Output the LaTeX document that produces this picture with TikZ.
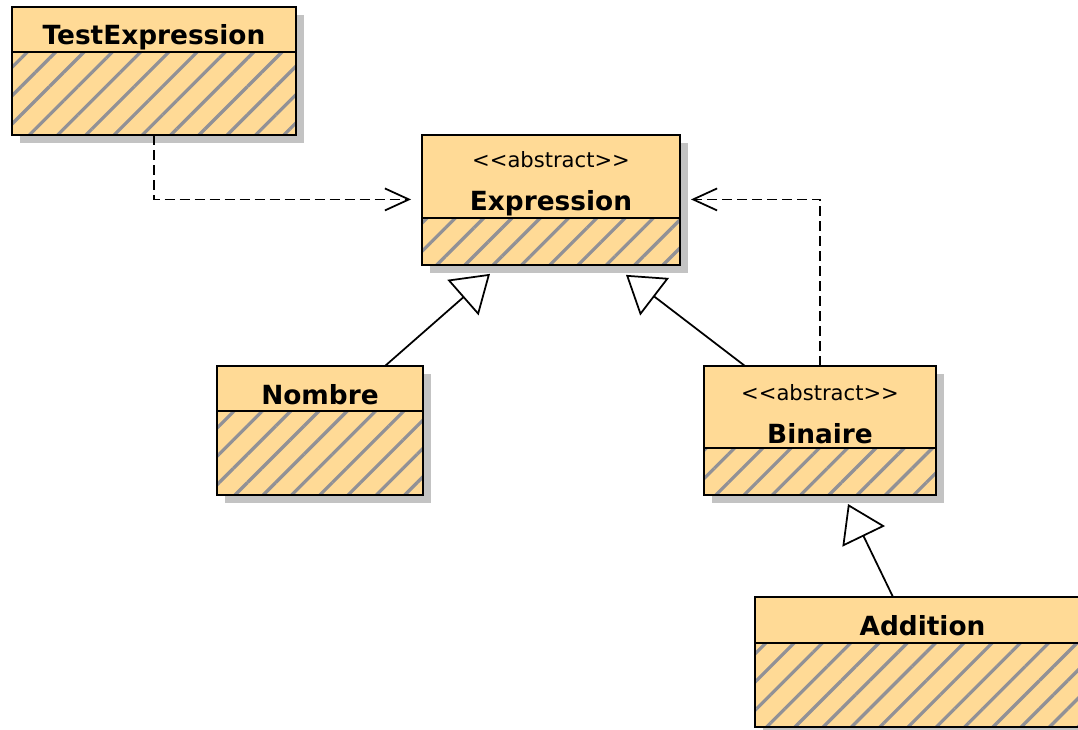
\documentclass[tikz,border=0pt]{standalone}
\usepackage{fontspec}
\setmainfont{DejaVu Sans}
\usepackage{tikz}
\usetikzlibrary{positioning}
\usetikzlibrary{arrows.meta, patterns.meta, shadows}
\usepackage{xcolor}
\definecolor{classfill}{RGB}{255,218,150}
\definecolor{hatch}{RGB}{145,145,150}
\definecolor{shade}{RGB}{195,195,195}
\newcommand{\stereo}{\rule{0pt}{6.2mm}{\fontsize{12}{14}\selectfont\mdseries <\kern0pt<abstract>\kern0pt>}\\[6.4pt]}

\begin{document}
\begin{tikzpicture}[
x = 0.2mm, y = -0.2mm,
every node/.style = {draw, line width = 0.4mm, outer sep = 0pt, inner sep = 1pt},
classshadow/.style = {drop shadow = {shadow xshift = 1.6mm, shadow yshift = -1.6mm, opacity = 1, fill = shade}},
head/.style = {classshadow, fill = classfill, anchor = north west, align = center,
  font = \fontsize{15}{18}\selectfont\bfseries},
namehead/.style = {head, text height = 6.2mm, text depth = 0pt},
body/.style = {classshadow, preaction = {fill = classfill},
  pattern = {Lines[angle = 45, distance = 4mm, line width = 0.65mm]}, pattern color = hatch},
dep/.style = {dash pattern = on 2mm off 1mm, line width = 0.35mm, shorten >= 2.2mm,
  -{Straight Barb[length = 4.8mm, width = 4.4mm]}},
gen/.style = {line width = 0.35mm, -{Triangle[open, length = 7.2mm, width = 9.4mm, fill = white]}}
]
\useasboundingbox (0,0) rectangle (1078,730);
\clip (0,0) rectangle (1078,730);

\node[namehead, minimum width = 56.8mm, minimum height = 9mm] (testHead) at (12,7) {TestExpression};
\node[body, below = 0pt of testHead, minimum width = 56.8mm, minimum height = 16.6mm] (test) {};

\node[head, minimum width = 51.6mm, minimum height = 16.4mm] (exprHead) at (422,135) {\stereo Expression};
\node[body, below = 0pt of exprHead, minimum width = 51.6mm, minimum height = 9.4mm] (expr) {};

\node[namehead, minimum width = 41.2mm, minimum height = 9mm] (nombreHead) at (217,366) {Nombre};
\node[body, below = 0pt of nombreHead, minimum width = 41.2mm, minimum height = 16.8mm] (nombre) {};

\node[head, minimum width = 46.4mm, minimum height = 16.4mm] (binaireHead) at (704,366) {\stereo Binaire};
\node[body, below = 0pt of binaireHead, minimum width = 46.4mm, minimum height = 9.4mm] (binaire) {};

\node[namehead, minimum width = 67mm, minimum height = 9.2mm] (additionHead) at (755,597) {Addition};
\node[body, below = 0pt of additionHead, minimum width = 67mm, minimum height = 16.8mm] (addition) {};

\draw[dep] (test.south) |- ([yshift = -4.6mm]exprHead.west);
\draw[dep] (binaireHead.north) |- ([yshift = -4.6mm]exprHead.east);

\draw[gen] ([xshift = 13mm]nombreHead.north) -- ([xshift = -12.2mm, yshift = -1.8mm]expr.south);
\draw[gen] ([xshift = -15mm]binaireHead.north) -- ([xshift = 15mm, yshift = -2mm]expr.south);
\draw[gen] ([xshift = 27.6mm]additionHead.north west) -- ([xshift = 5.6mm, yshift = -1.8mm]binaire.south);
% \draw[dep] (nombre.east) -- (binaire.west);

\end{tikzpicture}
\end{document}
